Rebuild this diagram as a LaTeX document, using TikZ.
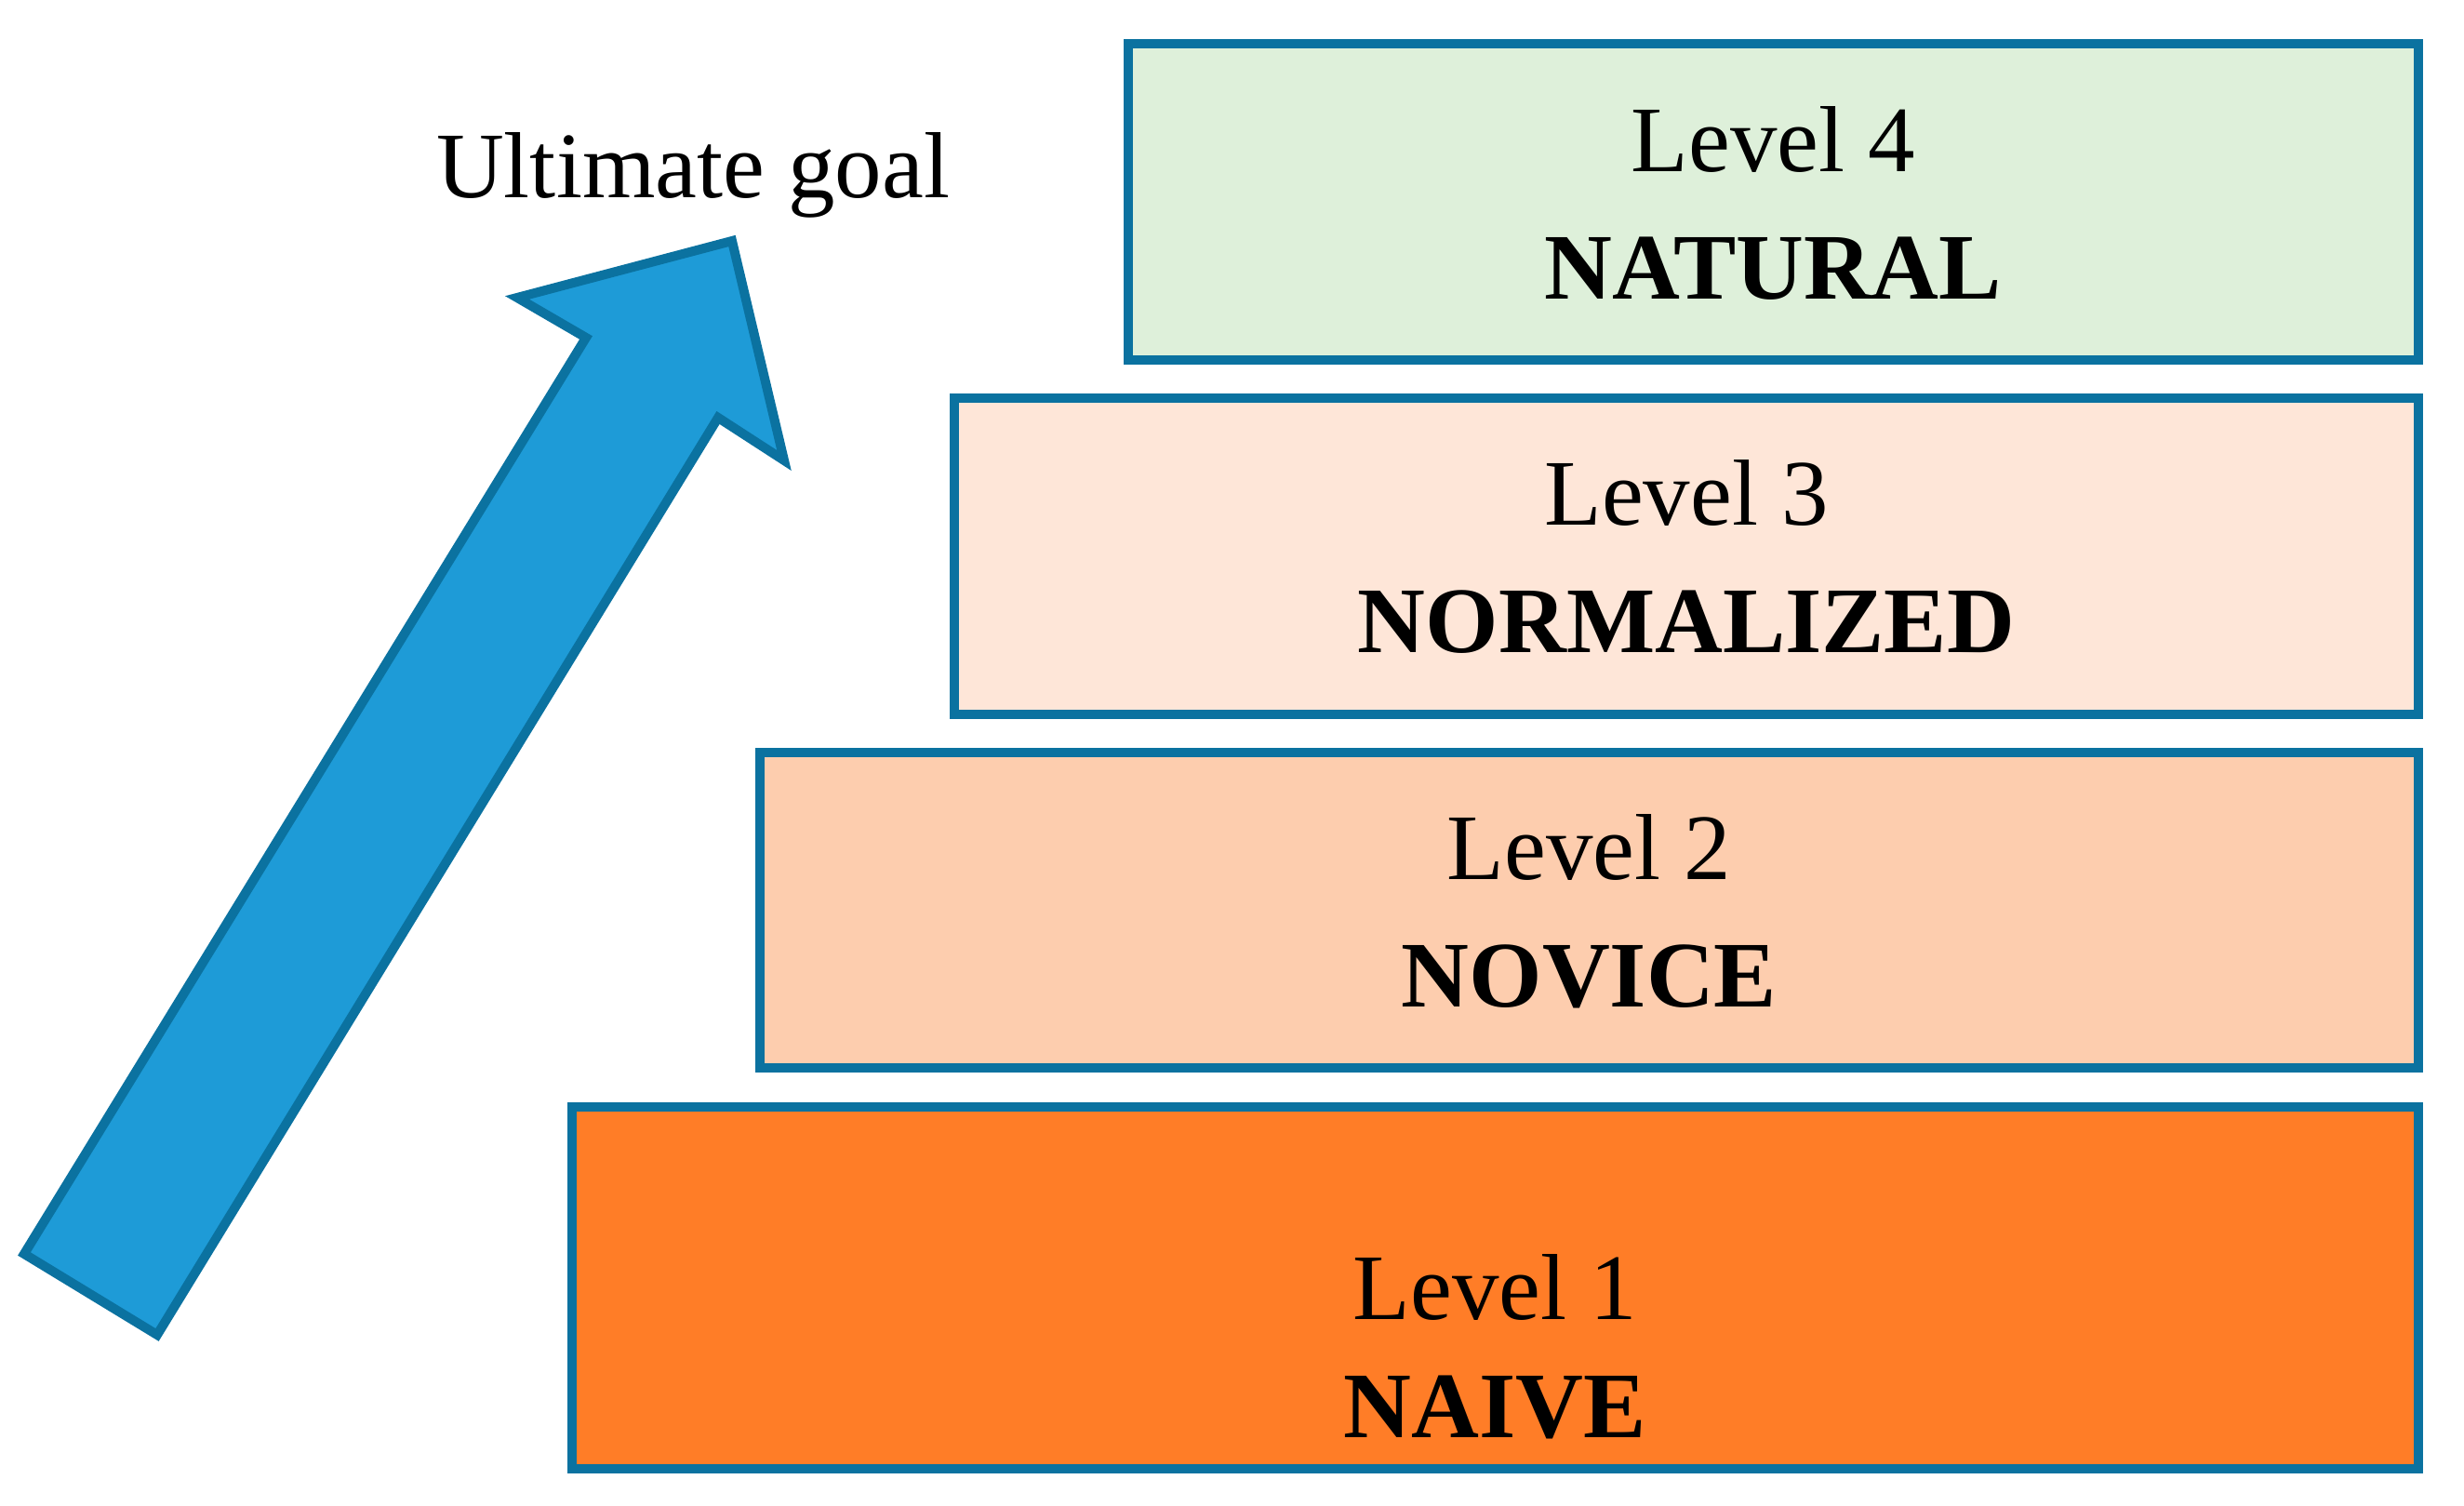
\documentclass[tikz,border=0pt]{standalone}
\usepackage{fontspec}
\setmainfont{Liberation Serif}
\usepackage{xcolor}
\usetikzlibrary{positioning}

\definecolor{edgeblue}{HTML}{0B72A0}
\definecolor{arrowblue}{HTML}{1E9BD7}
\definecolor{fill_l1}{HTML}{FF7D27}
\definecolor{fill_l2}{HTML}{FDCDAE}
\definecolor{fill_l3}{HTML}{FEE6D8}
\definecolor{fill_l4}{HTML}{DEF0DA}

\begin{document}
\begin{tikzpicture}[
    lvlbox/.style={draw=edgeblue, line width=0.1cm, rectangle, inner sep=0pt, minimum height=3.40cm},
    lvltext/.style={align=center, inner sep=0pt, font=\fontsize{28.7pt}{1.37cm}\selectfont}
]
    \useasboundingbox (0,0) rectangle (26.49,16.19);

    % level boxes
    \node[lvlbox, fill=fill_l4, minimum width=13.87cm] (box_l4) at (19.065,14.02) {};
    \node[lvlbox, fill=fill_l3, minimum width=15.74cm] (box_l3) at (18.13,10.21) {};
    \node[lvlbox, fill=fill_l2, minimum width=17.83cm, minimum height=3.39cm] (box_l2) at (17.085,6.405) {};
    \node[lvlbox, fill=fill_l1, minimum width=19.85cm, minimum height=3.89cm] (box_l1) at (16.075,2.345) {};

    \node[lvltext, above=0.69cm of box_l4.south] (text_l4) {Level 4\\\textbf{NATURAL}};
    \node[lvltext, above=0.70cm of box_l3.south] (text_l3) {Level 3\\\textbf{NORMALIZED}};
    \node[lvltext, above=0.68cm of box_l2.south] (text_l2) {Level 2\\\textbf{NOVICE}};
    \node[lvltext, above=0.36cm of box_l1.south] (text_l1) {Level 1\\[-0.1cm]\textbf{NAIVE}};

    % arrow towards the goal
    \draw[draw=edgeblue, fill=arrowblue, line width=0.1cm, line join=miter]
        (0.26,2.71) -- (1.69,1.84) -- (7.72,11.70) -- (8.43,11.24)
        -- (7.87,13.60) -- (5.56,12.99) -- (6.30,12.56) -- cycle;

    \node[lvltext, anchor=base] (goal) at (7.45,14.06) {Ultimate goal};
\end{tikzpicture}
\end{document}
